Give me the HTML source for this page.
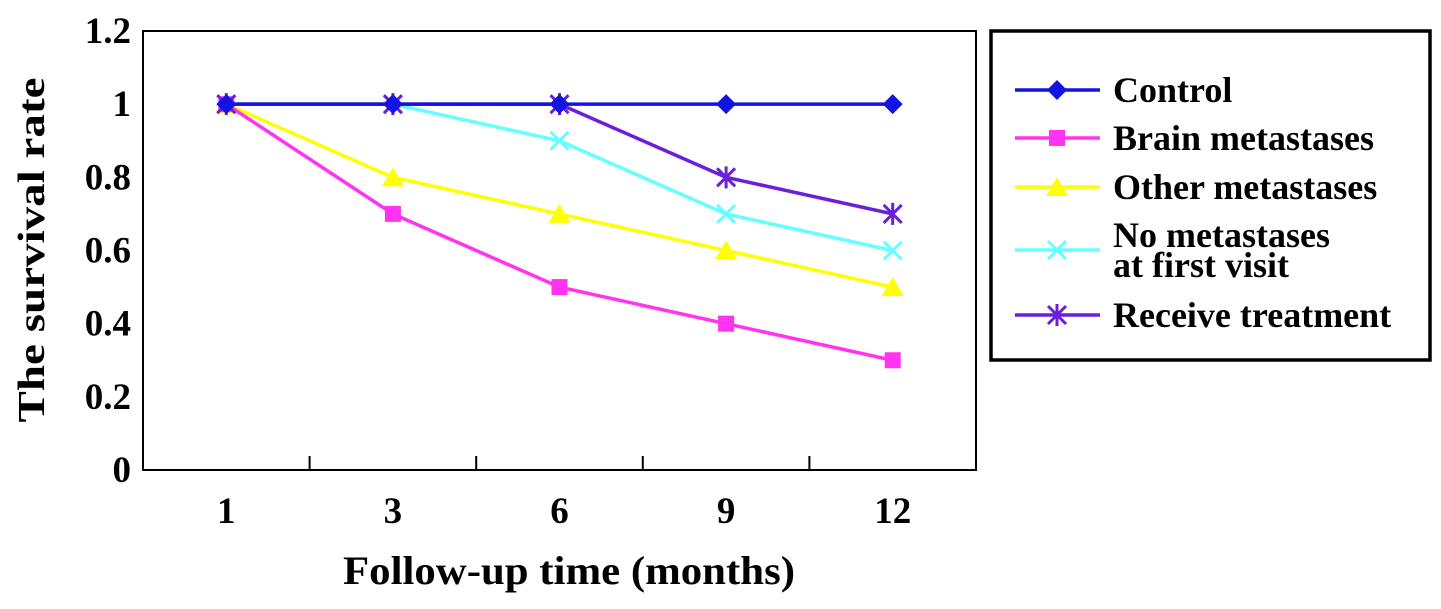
<!DOCTYPE html>
<html><head><meta charset="utf-8"><style>
body{margin:0;background:#fff;}
svg text{font-family:"Liberation Serif",serif;font-weight:bold;fill:#000;}
</style></head><body>
<svg id="chart" width="1441" height="604" xmlns="http://www.w3.org/2000/svg">
<rect x="143" y="31" width="833" height="439" fill="#fff" stroke="#000" stroke-width="2"/>
<g id="axes"></g>
<g id="series"></g>
<text x="44" y="250" font-size="38" text-anchor="middle" textLength="345" lengthAdjust="spacingAndGlyphs" transform="rotate(-90 44 250)">The survival rate</text>
<text x="569" y="584" font-size="40" text-anchor="middle" textLength="452" lengthAdjust="spacingAndGlyphs">Follow-up time (months)</text>
<rect x="991" y="31" width="439" height="329" fill="#fff" stroke="#000" stroke-width="3.5"/>
<g id="legend"></g>
</svg>
<script>
const categories=["1","3","6","9","12"];
const yTicks=[0,0.2,0.4,0.6,0.8,1,1.2];
const yTickLabels=["0","0.2","0.4","0.6","0.8","1","1.2"];
const seriesNames=["Control","Brain metastases","Other metastases","No metastases|at first visit","Receive treatment"];
const control=[1,1,1,1,1];
const brain=[1,0.7,0.5,0.4,0.3];
const other=[1,0.8,0.7,0.6,0.5];
const nomet=[1,1,0.9,0.7,0.6];
const receive=[1,1,1,0.8,0.7];
const NS="http://www.w3.org/2000/svg";
const L=143,R=976,T=31,B=470;
const bw=(R-L)/categories.length;
const x=i=>L+bw*(i+0.5);
const y=v=>B-(v/1.2)*(B-T);
function mk(tag,attrs,parent){const e=document.createElementNS(NS,tag);for(const k in attrs)e.setAttribute(k,attrs[k]);parent.appendChild(e);return e;}
const ax=document.getElementById('axes');
yTicks.forEach((v,i)=>{
  const t=mk('text',{x:L-12,y:y(v)+12,'font-size':37,'text-anchor':'end'},ax);
  t.textContent=yTickLabels[i];
  
  
});
categories.forEach((c,i)=>{
  const t=mk('text',{x:x(i),y:523,'font-size':37,'text-anchor':'middle'},ax);
  t.textContent=c;
  
  
  if(i>0){const l=mk('line',{x1:L+bw*i,x2:L+bw*i,y1:B,y2:B-14,stroke:'#000','stroke-width':2},ax);
  
  }
});
const data=[control,brain,other,nomet,receive];
const colors=["#1414e0","#ff33f0","#ffff00","#66ffff","#6a1fd8"];
const markers=["diamond","square","triangle","x","star"];
function marker(type,cx,cy,col,parent){
  let e;
  if(type==="diamond")e=mk('polygon',{points:`${cx},${cy-10} ${cx+10},${cy} ${cx},${cy+10} ${cx-10},${cy}`,fill:col},parent);
  else if(type==="square")e=mk('rect',{x:cx-8,y:cy-8,width:16,height:16,fill:col},parent);
  else if(type==="triangle")e=mk('polygon',{points:`${cx},${cy-10} ${cx+11},${cy+9} ${cx-11},${cy+9}`,fill:col},parent);
  else if(type==="x")e=mk('path',{d:`M${cx-9},${cy-9}L${cx+9},${cy+9}M${cx-9},${cy+9}L${cx+9},${cy-9}`,stroke:col,'stroke-width':3,fill:'none'},parent);
  else e=mk('path',{d:`M${cx-9},${cy-9}L${cx+9},${cy+9}M${cx-9},${cy+9}L${cx+9},${cy-9}M${cx},${cy-11}L${cx},${cy+11}`,stroke:col,'stroke-width':3,fill:'none'},parent);
  
  
}
const sg=document.getElementById('series');
[2,1,3,4,0].forEach(s=>{
  const g=mk('g',{},sg);
  
  
  const pts=data[s].map((v,i)=>x(i)+','+y(v)).join(' ');
  const pl=mk('polyline',{points:pts,fill:'none',stroke:colors[s],'stroke-width':3.5},g);
  
  
  data[s].forEach((v,i)=>marker(markers[s],x(i),y(v),colors[s],g));
});
const lg=document.getElementById('legend');
const ly=[90,138,187,250,315];
seriesNames.forEach((n,s)=>{
  const g=mk('g',{},lg);
  
  
  mk('line',{x1:1015,x2:1100,y1:ly[s],y2:ly[s],stroke:colors[s],'stroke-width':3.5},g);
  marker(markers[s],1057,ly[s],colors[s],g);
  const parts=n.split('|');
  parts.forEach((p,k)=>{
    const t=mk('text',{x:1113,y:ly[s]+12+(parts.length>1?(k-0.5)*30:0),'font-size':36},g);
    t.textContent=p;
  });
});
</script>
</body></html>
